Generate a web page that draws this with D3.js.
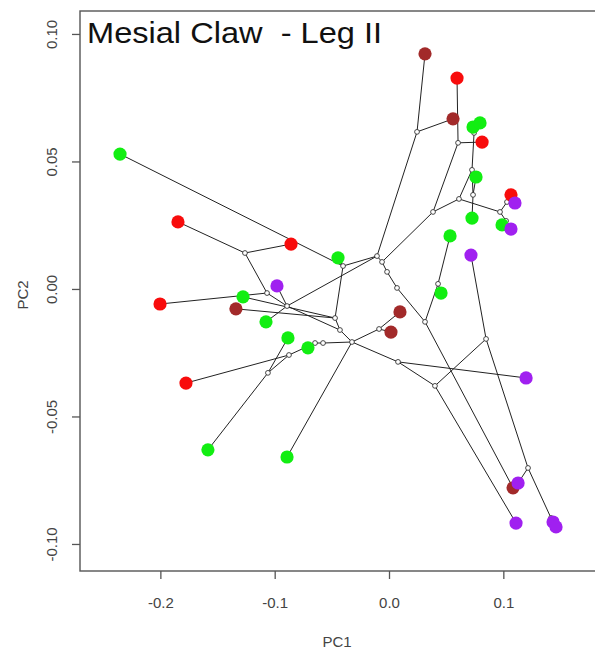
<!DOCTYPE html>
<html><head><meta charset="utf-8">
<script src="https://cdn.jsdelivr.net/npm/d3@7"></script>
<style>
body{margin:0;background:#fff}
svg{display:block;font-family:"Liberation Sans",Arial,sans-serif}
</style>
</head><body>
<svg id="c" width="595" height="653"></svg>
<script>
// ---- data (PC1 / PC2 scores) ----
const greenPC1  = [-0.2353,0.0735,0.0796,0.0761,0.0726,0.0989,0.0534,0.0455,-0.0446,-0.1277,-0.1076,-0.0884,-0.0709,-0.1584,-0.0892];
const greenPC2  = [0.0529,0.0635,0.0651,0.0439,0.0278,0.0251,0.0208,-0.0016,0.0122,-0.0031,-0.0129,-0.0192,-0.0231,-0.0631,-0.0659];
const redPC1    = [0.0595,0.0814,0.1067,-0.1846,-0.0857,-0.2003,-0.1776];
const redPC2    = [0.0827,0.0576,0.0369,0.0263,0.0176,-0.0059,-0.0369];
const brownPC1  = [0.0315,0.0560,0.0096,0.0017,-0.1339,0.1085];
const brownPC2  = [0.0922,0.0667,-0.0090,-0.0169,-0.0078,-0.0780];
const purplePC1 = [0.1102,0.1067,0.0717,-0.0980,0.1199,0.1129,0.1111,0.1435,0.1461];
const purplePC2 = [0.0337,0.0235,0.0133,0.0012,-0.0349,-0.0761,-0.0918,-0.0914,-0.0933];
// internal (ancestral) nodes n1..n33
const nodePC1 = [-0.1260,-0.1067,-0.0892,-0.0402,-0.0105,-0.0061,-0.0017,0.0070,0.0315,0.0429,
                 0.0245,0.0385,0.0604,0.0612,0.0726,0.0744,0.0735,0.0971,0.1032,0.1024,
                 -0.0472,-0.0429,-0.0324,-0.0577,-0.0647,-0.0875,-0.1059,-0.0087,0.0079,0.0402,
                 0.0849,0.1216,0.1417];
const nodePC2 = [0.0141,-0.0016,-0.0067,0.0090,0.0129,0.0106,0.0067,0.0004,-0.0129,0.0020,
                 0.0616,0.0302,0.0573,0.0353,0.0467,0.0612,0.0369,0.0302,0.0341,0.0267,
                 -0.0114,-0.0161,-0.0208,-0.0212,-0.0212,-0.0259,-0.0329,-0.0157,-0.0286,-0.0380,
                 -0.0196,-0.0702,-0.0898];
// tree branches
const edges = [
 ["n11","b1"],["n11","b2"],["n11","n5"],
 ["n13","r1"],["n13","r2"],["n13","n12"],
 ["n12","n14"],["n12","n6"],
 ["n14","n15"],["n14","n18"],
 ["n15","n16"],["n16","g2"],["n16","g3"],["n15","n17"],["n17","g4"],["n17","g5"],
 ["n18","n19"],["n19","r3"],["n19","p1"],["n18","n20"],["n20","g6"],["n20","p2"],
 ["n4","g1"],["n4","g9"],["n4","n5"],["n4","n21"],
 ["n5","n6"],["n6","n7"],["n7","n8"],["n8","n9"],["n9","n10"],["n10","g7"],["n10","g8"],["n9","b6"],
 ["n3","n5"],
 ["n1","r4"],["n1","r5"],["n1","n2"],
 ["n2","r6"],["n2","n3"],
 ["n3","p4"],["n3","g11"],["n3","n22"],
 ["n21","b5"],["n21","g10"],["n21","n22"],
 ["n22","n23"],
 ["n23","n24"],["n24","n25"],["n25","g13"],["n25","n26"],
 ["n26","r7"],["n26","n27"],["n27","g14"],["n27","g12"],
 ["n23","g15"],
 ["n23","n28"],["n28","b3"],["n28","b4"],
 ["n23","n29"],["n29","p5"],["n29","n30"],
 ["n30","p7"],["n30","n31"],
 ["n31","p3"],["n31","n32"],
 ["n32","p6"],["n32","n33"],["n33","p8"],["n33","p9"]
];
const xTicks = [-0.2,-0.1,0.0,0.1];
const yTicks = [-0.10,-0.05,0.00,0.05,0.10];
const groups = [
  {key:"g", pc1:greenPC1,  pc2:greenPC2,  color:"#12ee12"},
  {key:"r", pc1:redPC1,    pc2:redPC2,    color:"#f80c0c"},
  {key:"b", pc1:brownPC1,  pc2:brownPC2,  color:"#a22a2a"},
  {key:"p", pc1:purplePC1, pc2:purplePC2, color:"#a020f0"}
];

// ---- layout ----
const L=80, R=596.5, T=11, B=571;
const svg = d3.select("#c");
const x = d3.scaleLinear().domain([-0.2703, 0.1815]).range([L, R]);
const y = d3.scaleLinear().domain([-0.1106, 0.1090]).range([B, T]);

// coordinates lookup
const pos = {};
groups.forEach(g => g.pc1.forEach((v,i) => pos[g.key+(i+1)] = [v, g.pc2[i], g.color]));
nodePC1.forEach((v,i) => pos["n"+(i+1)] = [v, nodePC2[i]]);

// branches
svg.append("g").selectAll("line").data(edges).join("line")
  .attr("x1", d => x(pos[d[0]][0])).attr("y1", d => y(pos[d[0]][1]))
  .attr("x2", d => x(pos[d[1]][0])).attr("y2", d => y(pos[d[1]][1]))
  .attr("stroke", "#222").attr("stroke-width", 1);

// internal nodes
svg.append("g").selectAll("circle").data(nodePC1.map((v,i)=>[v,nodePC2[i]])).join("circle")
  .attr("cx", d => x(d[0])).attr("cy", d => y(d[1])).attr("r", 2.4)
  .attr("fill", "#fff").attr("stroke", "#333").attr("stroke-width", 0.9);

// tips
groups.forEach(g => {
  svg.append("g").selectAll("circle").data(g.pc1.map((v,i)=>[v,g.pc2[i]])).join("circle")
    .attr("cx", d => x(d[0])).attr("cy", d => y(d[1])).attr("r", 6.6)
    .attr("fill", g.color);
});

// box
svg.append("rect").attr("x", L).attr("y", T).attr("width", R-L).attr("height", B-T)
  .attr("fill", "none").attr("stroke", "#555").attr("stroke-width", 1.4);

// axes
const ya = svg.append("g").attr("transform", `translate(${L},0)`)
  .call(d3.axisLeft(y).tickValues(yTicks).tickFormat(d => d.toFixed(2)).tickSize(8).tickSizeOuter(0));
ya.select(".domain").remove();
ya.attr("color", "#555");
ya.selectAll("line").attr("stroke-width", 1.3);
ya.selectAll("text").attr("transform", "rotate(-90)").attr("x", 0).attr("y", -23).attr("dy", 0)
  .attr("text-anchor", "middle").attr("font-size", 15).attr("font-family", "Liberation Sans, Arial, sans-serif").attr("fill", "#444");

const xa = svg.append("g").attr("transform", `translate(0,${B})`)
  .call(d3.axisBottom(x).tickValues(xTicks).tickFormat(d => d.toFixed(1)).tickSize(8).tickSizeOuter(0));
xa.select(".domain").remove();
xa.attr("color", "#555");
xa.selectAll("line").attr("stroke-width", 1.3);
xa.selectAll("text").attr("y", 26).attr("dy", "0.71em")
  .attr("font-size", 15).attr("font-family", "Liberation Sans, Arial, sans-serif").attr("fill", "#444");

// axis titles
svg.append("text").attr("x", 337).attr("y", 647).attr("text-anchor", "middle")
  .attr("font-size", 15).attr("fill", "#444").text("PC1");
svg.append("text").attr("transform", "translate(28,295) rotate(-90)").attr("text-anchor", "middle")
  .attr("font-size", 15).attr("fill", "#444").text("PC2");

// title
svg.append("text").attr("x", 87).attr("y", 43).attr("font-size", 29).attr("fill", "#111")
  .attr("textLength", 295).attr("lengthAdjust", "spacingAndGlyphs")
  .style("white-space", "pre").text("Mesial Claw  - Leg II");
</script>
</body></html>
